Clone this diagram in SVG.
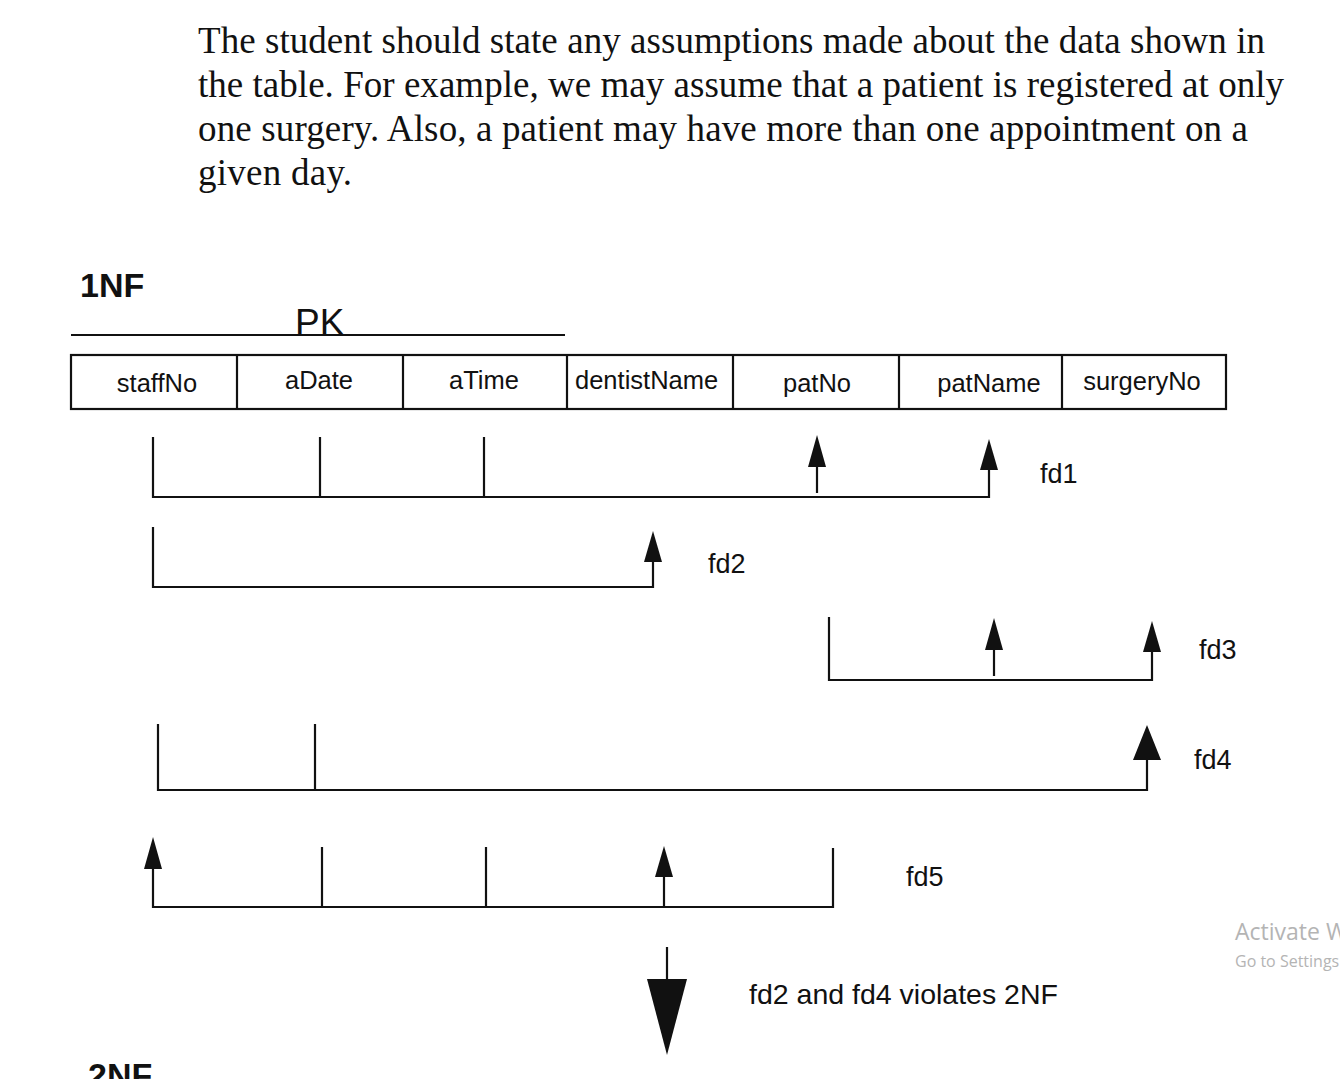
<svg xmlns="http://www.w3.org/2000/svg" width="1340" height="1079" viewBox="0 0 1340 1079">
<style>
.para{font-family:"Liberation Serif","Times New Roman",serif;font-size:37px;fill:#111}
.lbl{font-family:"Liberation Sans",Arial,sans-serif;font-size:25.5px;fill:#111}
.fd{font-family:"Liberation Sans",Arial,sans-serif;font-size:27px;fill:#111}
.hdr{font-family:"Liberation Sans",Arial,sans-serif;font-size:34px;font-weight:bold;fill:#111}
.ln{stroke:#111;stroke-width:2.2;fill:none}
.ah{fill:#111}
.wm{font-family:"Open Sans","Noto Sans",sans-serif;fill:#b4b4b4}
</style>
<rect width="1340" height="1079" fill="#fff"/>
<g id="paragraph">
<text class="para" x="198" y="53" textLength="1067">The student should state any assumptions made about the data shown in</text>
<text class="para" x="198" y="97" textLength="1086">the table. For example, we may assume that a patient is registered at only</text>
<text class="para" x="198" y="141" textLength="1050">one surgery. Also, a patient may have more than one appointment on a</text>
<text class="para" x="198" y="185" textLength="154">given day.</text>
</g>
<g id="title-1nf"><text class="hdr" x="80" y="297">1NF</text></g>
<g id="pk">
<line class="ln" x1="71" y1="335" x2="565" y2="335"/>
<text class="lbl" x="295" y="335" style="font-size:37px">PK</text>
</g>
<g id="table">
<rect class="ln" x="71" y="355" width="1155" height="54"/>
<line class="ln" x1="237" y1="355" x2="237" y2="409"/>
<line class="ln" x1="403" y1="355" x2="403" y2="409"/>
<line class="ln" x1="567" y1="355" x2="567" y2="409"/>
<line class="ln" x1="733" y1="355" x2="733" y2="409"/>
<line class="ln" x1="899" y1="355" x2="899" y2="409"/>
<line class="ln" x1="1062" y1="355" x2="1062" y2="409"/>
<text class="lbl" x="157" y="392" text-anchor="middle">staffNo</text>
<text class="lbl" x="319" y="389" text-anchor="middle">aDate</text>
<text class="lbl" x="484" y="389" text-anchor="middle">aTime</text>
<text class="lbl" x="575" y="389">dentistName</text>
<text class="lbl" x="817" y="392" text-anchor="middle">patNo</text>
<text class="lbl" x="989" y="392" text-anchor="middle">patName</text>
<text class="lbl" x="1142" y="390" text-anchor="middle">surgeryNo</text>
</g>
<g id="connectors">
<g id="fd1">
<polyline class="ln" points="153,437 153,497 989,497 989,468"/>
<line class="ln" x1="320" y1="437" x2="320" y2="497"/>
<line class="ln" x1="484" y1="437" x2="484" y2="497"/>
<line class="ln" x1="817" y1="493" x2="817" y2="465"/>
<polygon class="ah" points="808,467 826,467 817,435"/>
<polygon class="ah" points="980,470 998,470 989,439"/>
</g>
<g id="fd2">
<polyline class="ln" points="153,527 153,587 653,587 653,560"/>
<polygon class="ah" points="644,562 662,562 653,531"/>
</g>
<g id="fd3">
<polyline class="ln" points="829,617 829,680 1152,680 1152,650"/>
<line class="ln" x1="994" y1="676" x2="994" y2="648"/>
<polygon class="ah" points="985,650 1003,650 994,618"/>
<polygon class="ah" points="1143,652 1161,652 1152,621"/>
</g>
<g id="fd4">
<polyline class="ln" points="158,724 158,790 1147,790 1147,758"/>
<line class="ln" x1="315" y1="724" x2="315" y2="790"/>
<polygon class="ah" points="1133,760 1161,760 1147,725"/>
</g>
<g id="fd5">
<polyline class="ln" points="153,866 153,907 833,907 833,848"/>
<polygon class="ah" points="144,869 162,869 153,837"/>
<line class="ln" x1="322" y1="847" x2="322" y2="907"/>
<line class="ln" x1="486" y1="847" x2="486" y2="907"/>
<line class="ln" x1="664" y1="907" x2="664" y2="875"/>
<polygon class="ah" points="655,877 673,877 664,846"/>
</g>
<g id="down-arrow">
<line class="ln" x1="667" y1="947" x2="667" y2="982"/>
<polygon class="ah" points="647,979 687,979 667,1055"/>
</g>
</g>
<g id="labels">
<text class="fd" x="1040" y="483">fd1</text>
<text class="fd" x="708" y="573">fd2</text>
<text class="fd" x="1199" y="659">fd3</text>
<text class="fd" x="1194" y="769">fd4</text>
<text class="fd" x="906" y="886">fd5</text>
<text class="fd" x="749" y="1004" style="font-size:28.5px">fd2 and fd4 violates 2NF</text>
</g>
<g id="title-2nf"><text class="hdr" x="88" y="1087">2NF</text></g>
<g id="watermark">
<text class="wm" x="1235" y="940" style="font-size:23px">Activate Windows</text>
<text class="wm" x="1235" y="967" style="font-size:16px">Go to Settings to activate Windows.</text>
</g>
</svg>
